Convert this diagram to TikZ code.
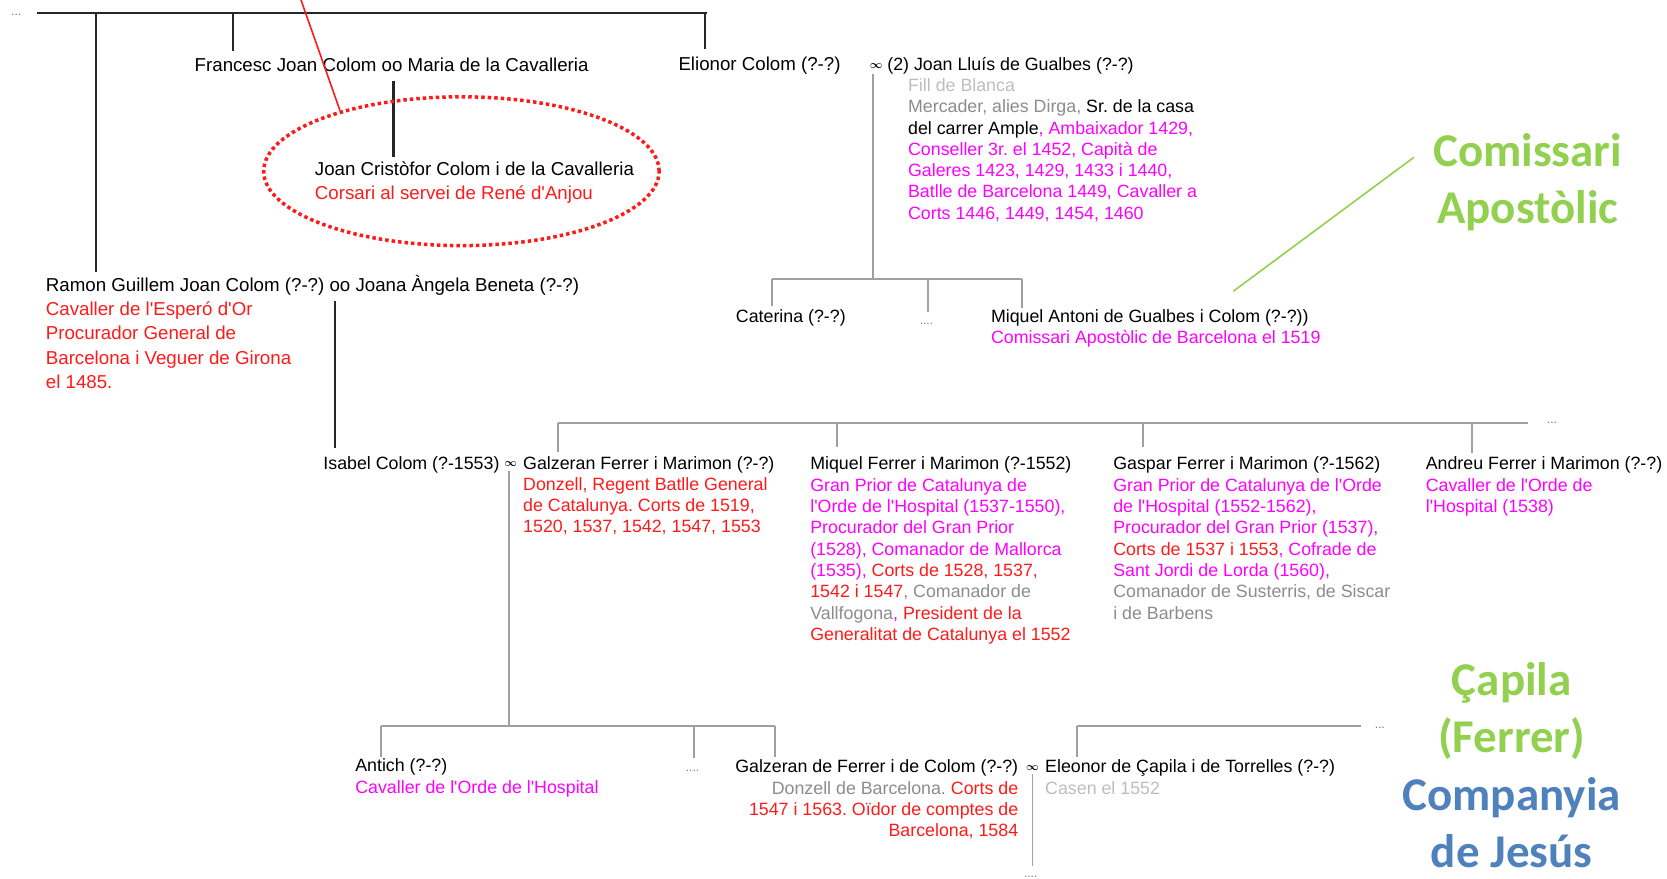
\documentclass[tikz,border=0pt]{standalone}
\usepackage{fontspec}
\setmainfont{Liberation Sans}
\newfontfamily\tagfont{Carlito}
\definecolor{genred}{HTML}{FF1A1A}
\definecolor{genmag}{HTML}{FF00FF}
\definecolor{gengray}{HTML}{8C8C8C}
\definecolor{genpale}{HTML}{BDBDBD}
\definecolor{linegray}{HTML}{A0A0A0}
\definecolor{dotblue}{HTML}{6A6A9A}
\definecolor{taggreen}{HTML}{92D050}
\definecolor{tagblue}{HTML}{4F81BD}
\frenchspacing
\newcommand\genbig{\fontsize{18.7}{24.2}\selectfont}
\newcommand\gensmall{\fontsize{17.8}{21.3}\selectfont}
\newcommand\wed{\raisebox{2.2pt}{\fontsize{11}{11}\selectfont\boldmath$\infty$}}
\newcommand\apos{\textquotesingle}
\newcommand\famlines[1]{\vtop{\let\\\cr\halign{##\hfil\cr#1\crcr}}}
\newcommand\famlinesr[1]{\vtop{\let\\\cr\halign{\hfil##\cr#1\crcr}}}

\begin{document}
\begin{tikzpicture}[x=1pt,y=-1pt,
  person/.style={anchor=base west,inner sep=0pt,font=\gensmall},
  elder/.style={person,font=\genbig},
  heir/.style={person,anchor=base east},
  more/.style={anchor=base west,inner sep=0pt,font=\fontsize{12}{12}\selectfont,text=dotblue},
  bigtag/.style={anchor=base,inner sep=0pt,align=center,font=\tagfont\bfseries\fontsize{47}{57.4}\selectfont},
  kin/.style={draw=black!85,line width=2.4pt},
  sib/.style={draw=linegray,line width=2pt},
  pointer/.style={line width=1.6pt}]
  \useasboundingbox (0,0) rectangle (1667,878);

  \node[more] (more-tl) at (11,15) {...};
  \node[elder] (francesc) at (194.5,71.5) {Francesc Joan Colom oo Maria de la Cavalleria};
  \node[elder] (cristofor) at (314.7,175.7) {\famlines{Joan Cristòfor Colom i de la Cavalleria\\
    \textcolor{genred}{Corsari al servei de René d\apos Anjou}}};
  \node[elder] (elionor) at (678.3,70.5) {Elionor Colom (?-?)};
  \node[person] (gualbes) at (869.6,70.5) {\wed\ (2) Joan Lluís de Gualbes (?-?)};
  \node[person] (gualbes-info) at (907.9,91.4) {\famlines{\textcolor{genpale}{Fill de Blanca}\\
    \textcolor{gengray}{Mercader, alies Dirga,} Sr. de la casa\\
    del carrer Ample\textcolor{genmag}{, Ambaixador 1429,}\\
    \textcolor{genmag}{Conseller 3r. el 1452, Capità de}\\
    \textcolor{genmag}{Galeres 1423, 1429, 1433 i 1440,}\\
    \textcolor{genmag}{Batlle de Barcelona 1449, Cavaller a}\\
    \textcolor{genmag}{Corts 1446, 1449, 1454, 1460}}};
  \node[elder] (ramon) at (45.7,291.5) {\famlines{Ramon Guillem Joan Colom (?-?) oo Joana Àngela Beneta (?-?)\\
    \textcolor{genred}{Cavaller de l\apos Esperó d\apos Or}\\
    \textcolor{genred}{Procurador General de}\\
    \textcolor{genred}{Barcelona i Veguer de Girona}\\
    \textcolor{genred}{el 1485.}}};
  \node[person] (caterina) at (735.7,322) {Caterina (?-?)};
  \node[more,text=gray] (more-gk) at (919.6,324) {....};
  \node[person] (miqant) at (990.8,322) {\famlines{Miquel Antoni de Gualbes i Colom (?-?))\\
    \textcolor{genmag}{Comissari Apostòlic de Barcelona el 1519}}};
  \node[person] (isabel) at (323.2,469) {Isabel Colom (?-1553) \wed};
  \node[person] (galzeran) at (523,469) {\famlines{Galzeran Ferrer i Marimon (?-?)\\
    \textcolor{genred}{Donzell, Regent Batlle General}\\
    \textcolor{genred}{de Catalunya. Corts de 1519,}\\
    \textcolor{genred}{1520, 1537, 1542, 1547, 1553}}};
  \node[person] (miquel) at (810.1,469.9) {\famlines{Miquel Ferrer i Marimon (?-1552)\\
    \textcolor{genmag}{Gran Prior de Catalunya de}\\
    \textcolor{genmag}{l\apos Orde de l\apos Hospital (1537-1550),}\\
    \textcolor{genmag}{Procurador del Gran Prior}\\
    \textcolor{genmag}{(1528), Comanador de Mallorca}\\
    \textcolor{genmag}{(1535), }\textcolor{genred}{Corts de 1528, 1537,}\\
    \textcolor{genred}{1542 i 1547}\textcolor{gengray}{, Comanador de}\\
    \textcolor{gengray}{Vallfogona}\textcolor{genmag}{, }\textcolor{genred}{President de la}\\
    \textcolor{genred}{Generalitat de Catalunya el 1552}}};
  \node[person] (gaspar) at (1113.1,469.9) {\famlines{Gaspar Ferrer i Marimon (?-1562)\\
    \textcolor{genmag}{Gran Prior de Catalunya de l\apos Orde}\\
    \textcolor{genmag}{de l\apos Hospital (1552-1562),}\\
    \textcolor{genmag}{Procurador del Gran Prior (1537),}\\
    \textcolor{genred}{Corts de 1537 i 1553}\textcolor{genmag}{, Cofrade de}\\
    \textcolor{genmag}{Sant Jordi de Lorda (1560),}\\
    \textcolor{gengray}{Comanador de Susterris, de Siscar}\\
    \textcolor{gengray}{i de Barbens}}};
  \node[person] (andreu) at (1425.6,469.9) {\famlines{Andreu Ferrer i Marimon (?-?)\\
    \textcolor{genmag}{Cavaller de l\apos Orde de}\\
    \textcolor{genmag}{l\apos Hospital (1538)}}};
  \node[more] (more-fm) at (1546.8,423) {...};
  \node[person] (antich) at (355.1,771.8) {\famlines{Antich (?-?)\\
    \textcolor{genmag}{Cavaller de l\apos Orde de l\apos Hospital}}};
  \node[more,text=gray] (more-ch) at (685.7,771) {....};
  \node[heir] (galzeranjr) at (1018.4,772.9) {\famlinesr{Galzeran de Ferrer i de Colom (?-?)\\
    \textcolor{gengray}{Donzell de Barcelona. }\textcolor{genred}{Corts de}\\
    \textcolor{genred}{1547 i 1563. Oïdor de comptes de}\\
    \textcolor{genred}{Barcelona, 1584}}};
  \node[person] (wed-jr) at (1026,772.9) {\wed};
  \node[person] (eleonor) at (1045,772.9) {\famlines{Eleonor de Çapila i de Torrelles (?-?)\\
    \textcolor{genpale}{Casen el 1552}}};
  \node[more] (more-cp) at (1374.6,728) {...};
  \node[more,text=gray] (more-gc) at (1023.8,877) {....};

  \node[bigtag,text=taggreen] (tag-com) at (1527.7,223.4) {Comissari\\Apostòlic};
  \node[bigtag,text=taggreen] (tag-cap) at (1511.7,752.8) {Çapila\\(Ferrer)};
  \node[bigtag,text=tagblue] (tag-jes) at (1511.7,867.6) {Companyia\\de Jesús};

  \coordinate (top-w) at (37,13);
  \coordinate (top-e) at (707,13);
  \coordinate (top-ramon) at (95.7,13);
  \coordinate (top-francesc) at (232.8,13);
  \coordinate (top-elionor) at (704.8,13);
  \coordinate (fc-top) at (393.3,80.8);
  \coordinate (ri-top) at (334.9,300.9);
  \coordinate (gl-top) at (872.8,74.4);
  \coordinate (gk-w) at (771.8,278.5);
  \coordinate (gk-mid) at (928.1,278.5);
  \coordinate (gk-e) at (1021.6,278.5);
  \coordinate (gl-bar) at (872.8,278.5);
  \coordinate (fm-w) at (558.1,423.1);
  \coordinate (fm-miquel) at (836.7,423.1);
  \coordinate (fm-gaspar) at (1142.8,423.1);
  \coordinate (fm-andreu) at (1472.4,423.1);
  \coordinate (fm-e) at (1527.7,423.1);
  \coordinate (ig-top) at (509.2,471);
  \coordinate (ch-w) at (380.6,726.1);
  \coordinate (ch-mid) at (694.2,726.1);
  \coordinate (ch-e) at (775,726.1);
  \coordinate (ig-bar) at (509.2,726.1);
  \coordinate (cp-w) at (1076.9,726.1);
  \coordinate (cp-e) at (1360.8,726.1);
  \coordinate (gc-top) at (1032.3,774);
  \coordinate (gc-bot) at (1032.3,866.4);
  \coordinate (ptr-a) at (301,0);
  \coordinate (ptr-b) at (340,110.6);
  \coordinate (gp-a) at (1233.2,291.3);
  \coordinate (gp-b) at (1413.9,157.3);

  \path[kin]
    (top-w) edge[line width=2.8pt] (top-e)
    (top-ramon) edge[shorten >=19.5pt] (top-ramon |- ramon.base)
    (top-francesc) edge[shorten >=20.5pt] (top-francesc |- francesc.base)
    (top-elionor) edge[shorten >=21.5pt] (top-elionor |- elionor.base)
    (fc-top) edge[shorten >=18.4pt] (fc-top |- cristofor.base)
    (ri-top) edge[shorten >=21.3pt] (ri-top |- isabel.base);
  \path[sib]
    (gl-top) edge[line width=1.4pt] (gl-bar)
    (gk-w) edge (gk-e)
    (gk-w) edge[shorten >=16pt] (gk-w |- caterina.base)
    (gk-mid) edge[shorten >=12pt] (gk-mid |- more-gk.base)
    (gk-e) edge[shorten >=14pt] (gk-e |- miqant.base)
    (fm-w) edge (fm-e)
    (fm-w) edge[shorten >=17pt] (fm-w |- galzeran.base)
    (fm-miquel) edge[shorten >=22.5pt] (fm-miquel |- miquel.base)
    (fm-gaspar) edge[shorten >=22.5pt] (fm-gaspar |- gaspar.base)
    (fm-andreu) edge[shorten >=17pt] (fm-andreu |- andreu.base)
    (ig-top) edge (ig-bar)
    (ch-w) edge (ch-e)
    (ch-w) edge[shorten >=15pt] (ch-w |- antich.base)
    (ch-mid) edge[shorten >=13pt] (ch-mid |- more-ch.base)
    (ch-e) edge[shorten >=16pt] (ch-e |- galzeranjr.base)
    (cp-w) edge[line width=2.6pt] (cp-e)
    (cp-w) edge[shorten >=16pt] (cp-w |- eleonor.base)
    (gc-top) edge[line width=1.4pt] (gc-bot);

  \draw[pointer,genred] (ptr-a) -- (ptr-b);
  \draw[pointer,taggreen] (gp-a) -- (gp-b);
  \draw[genred,line width=3.5pt,dash pattern=on 3.5pt off 3pt] (461.4,171.2) ellipse [x radius=197.7pt,y radius=74.4pt];
\end{tikzpicture}
\end{document}
